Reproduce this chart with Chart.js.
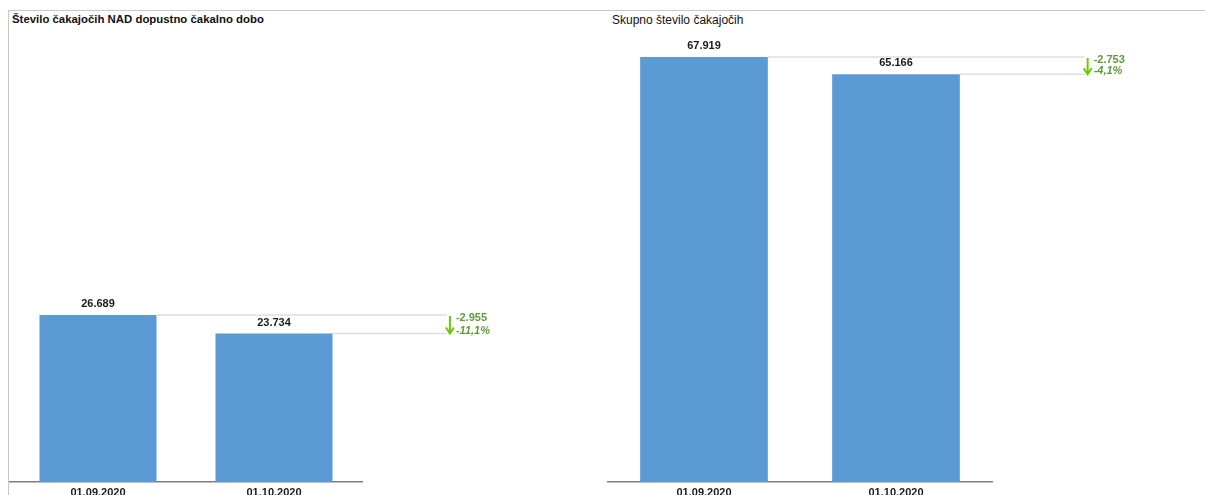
<!DOCTYPE html>
<html lang="sl">
  <head>
    <meta charset="UTF-8" />
    <title>Čakajoči</title>
    <script src="https://cdn.jsdelivr.net/npm/chart.js"></script>
    <style>
      body {
        margin: 0;
        width: 1205px;
        height: 495px;
        overflow: hidden;
        background: #fff;
        font-family: "Liberation Sans", Arial, sans-serif;
        position: relative;
      }
      .frame {
        position: absolute;
        left: 8px;
        top: 10px;
        right: 0;
        bottom: 0;
        border-top: 1px solid #c8c8c8;
        border-left: 1px solid #c8c8c8;
      }
      .title {
        position: absolute;
        color: #111;
        white-space: nowrap;
      }
      .box {
        position: absolute;
        top: 0;
      }
    </style>
  </head>
  <body>
    <div class="frame"></div>
    <div class="title" style="left: 12px; top: 13px; font-size: 11.4px; font-weight: bold">
      Število čakajočih NAD dopustno čakalno dobo
    </div>
    <div class="title" style="left: 612px; top: 13px; font-size: 12px">
      Skupno število čakajočih
    </div>
    <div class="box" style="left: 0px">
      <canvas id="chart-nad" width="600" height="510"></canvas>
    </div>
    <div class="box" style="left: 600px">
      <canvas id="chart-skupno" width="605" height="510"></canvas>
    </div>

    <script>
      // podatki
      const dates = ["01.09.2020", "01.10.2020"];
      const nadValues = [26689, 23734];
      const skupnoValues = [67919, 65166];
      const yMax = 70000;

      const fmt = (v) =>
        String(Math.abs(v)).replace(/\B(?=(\d{3})+(?!\d))/g, ".");
      const fmtSigned = (v) => (v < 0 ? "-" : "+") + fmt(v);

      // vrednosti nad stolpci + primerjava (puščica)
      const barExtras = {
        id: "barExtras",
        afterDatasetsDraw(chart) {
          const ctx = chart.ctx;
          const meta = chart.getDatasetMeta(0);
          const data = chart.data.datasets[0].data;
          const b1 = meta.data[0];
          const b2 = meta.data[1];

          ctx.save();
          // povezovalne črte
          const catW = chart.scales.x.getPixelForValue(1) - chart.scales.x.getPixelForValue(0);
          const endX = b2.x + b2.width / 2 + catW * 0.65;
          ctx.strokeStyle = "#dedede";
          ctx.lineWidth = 1.5;
          ctx.beginPath();
          ctx.moveTo(b1.x + b1.width / 2, b1.y);
          ctx.lineTo(endX, b1.y);
          ctx.moveTo(b2.x + b2.width / 2, b2.y);
          ctx.lineTo(endX, b2.y);
          ctx.stroke();

          // puščica
          const ax = endX + 3;
          ctx.strokeStyle = "#66cc00";
          ctx.lineWidth = 2;
          ctx.beginPath();
          ctx.moveTo(ax, b1.y + 1);
          ctx.lineTo(ax, b2.y);
          ctx.moveTo(ax - 4, b2.y - 6);
          ctx.lineTo(ax, b2.y);
          ctx.lineTo(ax + 4, b2.y - 6);
          ctx.stroke();

          // razlika
          const diff = data[1] - data[0];
          const pct = ((diff / data[0]) * 100).toFixed(1).replace(".", ",");
          ctx.fillStyle = "#619a3c";
          ctx.textAlign = "left";
          ctx.textBaseline = "middle";
          ctx.font = "bold 11px 'Liberation Sans', Arial, sans-serif";
          ctx.fillText(fmtSigned(diff), ax + 6, b1.y + 3);
          ctx.font = "italic bold 11px 'Liberation Sans', Arial, sans-serif";
          ctx.fillText(pct + "%", ax + 6, b2.y - 3);

          // vrednosti
          ctx.fillStyle = "#1a1a1a";
          ctx.textAlign = "center";
          ctx.font = "bold 11px 'Liberation Sans', Arial, sans-serif";
          meta.data.forEach((bar, i) => {
            ctx.fillText(fmt(data[i]), bar.x, bar.y - 11);
          });
          ctx.restore();
        },
      };

      function createChart(id, values, padLeft, padRight) {
        return new Chart(document.getElementById(id), {
          type: "bar",
          data: {
            labels: dates,
            datasets: [
              {
                data: values,
                backgroundColor: "#5b9bd5",
                barPercentage: 0.665,
                categoryPercentage: 1,
              },
            ],
          },
          options: {
            responsive: false,
            animation: false,
            layout: {
              padding: { top: 44, left: padLeft, right: padRight, bottom: 0 },
            },
            plugins: {
              legend: { display: false },
              tooltip: { enabled: false },
            },
            scales: {
              y: { display: false, min: 0, max: yMax },
              x: {
                grid: { display: false, drawTicks: false },
                border: { display: true, color: "#7f7f7f", width: 1.5 },
                ticks: {
                  color: "#1a1a1a",
                  padding: 4,
                  autoSkip: false,
                  maxRotation: 0,
                  font: { family: "'Liberation Sans', Arial, sans-serif", size: 11, weight: "bold" },
                },
                afterFit: (s) => {
                  s.height = 28;
                },
              },
            },
          },
          plugins: [barExtras],
        });
      }

      createChart("chart-nad", nadValues, 10, 238);
      createChart("chart-skupno", skupnoValues, 8, 213);
    </script>
  </body>
</html>
